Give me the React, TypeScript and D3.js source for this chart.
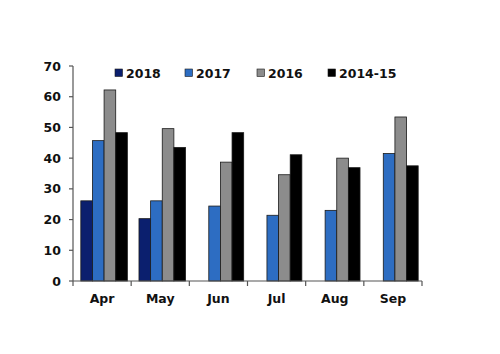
import React from "react";
import * as d3 from "d3";

const months = ["Apr", "May", "Jun", "Jul", "Aug", "Sep"];
const seriesNames = ["2018", "2017", "2016", "2014-15"];
const s2018 = [26.1, 20.3, null, null, null, null];
const s2017 = [45.7, 26.1, 24.4, 21.4, 23.0, 41.5];
const s2016 = [62.2, 49.6, 38.7, 34.6, 40.0, 53.4];
const s2014 = [48.3, 43.5, 48.3, 41.1, 36.9, 37.5];
const yTicks = [0, 10, 20, 30, 40, 50, 60, 70];
const colors = ["#0b1f6e", "#2d6dc2", "#8c8c8c", "#000000"];

export default function App() {
  const W = 500, H = 354;
  const x0 = 73, x1 = 422, yBottom = 281, yTop = 66;
  const x = d3.scaleBand().domain(months).range([x0 + 2, x1 + 2]).paddingInner(0.2).paddingOuter(0.1);
  const xSub = d3.scaleBand().domain(seriesNames).range([0, x.bandwidth()]);
  const y = d3.scaleLinear().domain([0, 70]).range([yBottom, yTop]);
  const all = [s2018, s2017, s2016, s2014];
  const catX = d3.scaleBand().domain(months).range([x0, x1]);
  const font = "'DejaVu Sans', Verdana, sans-serif";
  const legendX = [115, 185, 257, 328];
  const axisColor = "#555";
  return (
    <svg width={W} height={H} style={{ position: "absolute", left: 0, top: 0 }}>
      <rect width={W} height={H} fill="#fff" />
      {all.map((s, si) =>
        s.map((v, i) =>
          v == null ? null : (
            <rect
              key={si + "-" + i}
              x={(x(months[i]) as number) + (xSub(seriesNames[si]) as number)}
              y={y(v)}
              width={xSub.bandwidth()}
              height={yBottom - y(v)}
              fill={colors[si]}
              stroke="#1a1a1a"
              strokeWidth={0.8}
            />
          )
        )
      )}
      <line x1={x0} x2={x0} y1={yTop} y2={yBottom} stroke={axisColor} strokeWidth={1.2} />
      <line x1={x0} x2={x1} y1={yBottom} y2={yBottom} stroke={axisColor} strokeWidth={1.2} />
      {yTicks.map((t) => (
        <g key={t}>
          <line x1={x0 - 4} x2={x0} y1={y(t)} y2={y(t)} stroke={axisColor} strokeWidth={1.2} />
          <text x={61} y={y(t)} dy="0.36em" textAnchor="end" fontFamily={font} fontWeight="bold" fontSize={12.5} fill="#111">
            {t}
          </text>
        </g>
      ))}
      {[...months.map((m) => catX(m) as number), x1].map((px, i) => (
        <line key={i} x1={px} x2={px} y1={yBottom} y2={yBottom + 5} stroke={axisColor} strokeWidth={1.2} />
      ))}
      {months.map((m) => (
        <text key={m} x={(catX(m) as number) + catX.bandwidth() / 2} y={303} textAnchor="middle" fontFamily={font} fontWeight="bold" fontSize={12.5} fill="#111">
          {m}
        </text>
      ))}
      {seriesNames.map((n, i) => (
        <g key={n}>
          <rect x={legendX[i]} y={69} width={7.5} height={7.5} fill={colors[i]} stroke="#1a1a1a" strokeWidth={0.6} />
          <text x={legendX[i] + 11} y={73} dy="0.36em" fontFamily={font} fontWeight="bold" fontSize={12.5} fill="#111">
            {n}
          </text>
        </g>
      ))}
    </svg>
  );
}
